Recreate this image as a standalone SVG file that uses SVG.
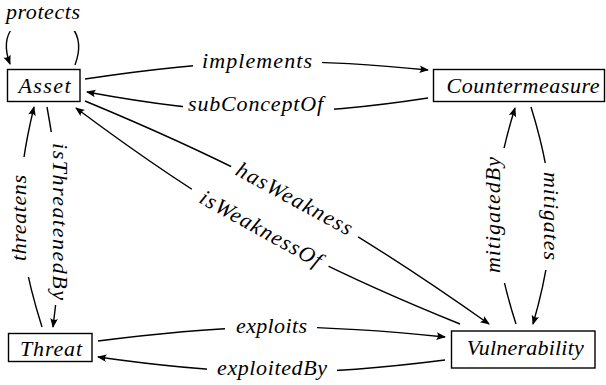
<svg xmlns="http://www.w3.org/2000/svg" width="606" height="385" viewBox="0 0 606 385">
<style>
  .box { fill: #fff; stroke: #000; stroke-width: 1.4; }
  .edge { fill: none; stroke: #000; stroke-width: 1.4; marker-end: url(#arr); }
  .gap { fill: #fff; stroke: none; }
  .lbl { font-family: 'Liberation Serif', 'DejaVu Serif', serif; font-style: italic; font-size: 22px; fill: #000; text-anchor: middle; }
</style>
<defs>
  <marker id="arr" viewBox="-10 -5 12 10" refX="0" refY="0" markerWidth="12" markerHeight="10" markerUnits="userSpaceOnUse" orient="auto">
    <path d="M1,0 L-8.5,-3.8 Q-5.5,0 -8.5,3.8 Z" fill="#000"/>
  </marker>
</defs>

<g id="connectors">
  <g id="e-protects">
    <path class="edge" d="M75,65 C100,-2 -15,-2 10,64"/>
    <rect class="gap" x="0" y="0" width="86" height="31"/>
    <text class="lbl" x="43" y="19" textLength="74" lengthAdjust="spacing">protects</text>
  </g>
  <g id="e-implements">
    <path class="edge" d="M85,79 C219.8,58.6 295.2,56.8 428,70"/>
    <rect class="gap" x="193" y="51" width="129" height="25"/>
    <text class="lbl" x="257" y="68" textLength="110" lengthAdjust="spacing">implements</text>
  </g>
  <g id="e-subConceptOf">
    <path class="edge" d="M428,98 C295.6,118.3 220.4,116.7 87,92"/>
    <rect class="gap" x="183" y="94" width="151" height="26"/>
    <text class="lbl" x="255.5" y="110.7" textLength="135" lengthAdjust="spacing">subConceptOf</text>
  </g>
  <g id="e-threatens">
    <path class="edge" d="M42,327 C14.9,241.2 13.1,192.8 34,107"/>
    <rect class="gap" x="7" y="157" width="26" height="120"/>
    <text class="lbl" transform="translate(26,218) rotate(-90)" x="0" y="0" textLength="86" lengthAdjust="spacing">threatens</text>
  </g>
  <g id="e-isThreatenedBy">
    <path class="edge" d="M47,107 C62.6,192.8 64,241.2 53,327"/>
    <rect class="gap" x="43" y="132" width="28" height="173"/>
    <text class="lbl" transform="translate(53,221.5) rotate(90)" x="0" y="0" textLength="157" lengthAdjust="spacing">isThreatenedBy</text>
  </g>
  <g id="e-exploits">
    <path class="edge" d="M98,341 C232.9,323.5 309.1,322.9 445,337"/>
    <rect class="gap" x="225" y="315" width="92" height="26"/>
    <text class="lbl" x="271.5" y="333" textLength="71" lengthAdjust="spacing">exploits</text>
  </g>
  <g id="e-exploitedBy">
    <path class="edge" d="M445,360 C310.7,377.1 234.3,376.3 98,357"/>
    <rect class="gap" x="207" y="357" width="130" height="26"/>
    <text class="lbl" x="272" y="374.5" textLength="110" lengthAdjust="spacing">exploitedBy</text>
  </g>
  <g id="e-mitigatedBy">
    <path class="edge" d="M516,324 C488.9,239.8 488.7,192.2 515,108"/>
    <rect class="gap" x="482" y="148" width="30" height="135"/>
    <text class="lbl" transform="translate(500,215) rotate(-90)" x="0" y="0" textLength="116" lengthAdjust="spacing">mitigatedBy</text>
  </g>
  <g id="e-mitigates">
    <path class="edge" d="M531,107 C557.1,191.2 557.5,239.8 533,324"/>
    <rect class="gap" x="535" y="163" width="27" height="107"/>
    <text class="lbl" transform="translate(544,216) rotate(90)" x="0" y="0" textLength="88" lengthAdjust="spacing">mitigates</text>
  </g>
  <g id="e-hasWeakness">
    <path class="edge" d="M85,101 C252.2,170.4 341,219.4 489,324"/>
    <rect class="gap" transform="translate(295,201) rotate(29.7)" x="-72.5" y="-13" width="145" height="26"/>
    <text class="lbl" transform="translate(291,205) rotate(28.5)" x="0" y="0" textLength="129" lengthAdjust="spacing">hasWeakness</text>
  </g>
  <g id="e-isWeaknessOf">
    <path class="edge" d="M460,324 C299,259 214.4,211.4 76,108"/>
    <rect class="gap" transform="translate(260,228) rotate(29.8)" x="-78.4" y="-13" width="156.8" height="26"/>
    <text class="lbl" transform="translate(257.5,235) rotate(29)" x="0" y="0" textLength="136" lengthAdjust="spacing">isWeaknessOf</text>
  </g>
</g>

<g id="asset">
  <rect class="box" x="7.5" y="69.5" width="72.5" height="32"/>
  <text class="lbl" x="44.5" y="93.3" textLength="52" lengthAdjust="spacing">Asset</text>
</g>
<g id="countermeasure">
  <rect class="box" x="433.5" y="69.5" width="171" height="32"/>
  <text class="lbl" x="523" y="93.3" textLength="153" lengthAdjust="spacing">Countermeasure</text>
</g>
<g id="threat">
  <rect class="box" x="8.5" y="333.5" width="83.5" height="28"/>
  <text class="lbl" x="51" y="356" textLength="62" lengthAdjust="spacing">Threat</text>
</g>
<g id="vulnerability">
  <rect class="box" x="451.5" y="331" width="143.5" height="37"/>
  <text class="lbl" x="525.3" y="355" textLength="117" lengthAdjust="spacing">Vulnerability</text>
</g>
</svg>
